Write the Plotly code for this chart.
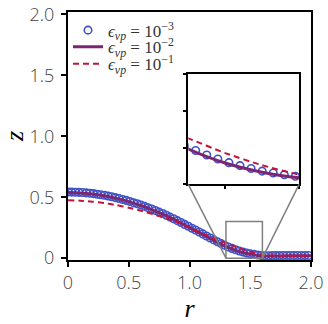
import plotly.graph_objects as go

# ---------------- data ----------------
r_markers = [0.00, 0.03, 0.06, 0.09, 0.12, 0.15, 0.18, 0.21, 0.24, 0.27,
             0.30, 0.33, 0.36, 0.39, 0.42, 0.45, 0.48, 0.51, 0.54, 0.57,
             0.60, 0.63, 0.66, 0.69, 0.72, 0.75, 0.78, 0.81, 0.84, 0.87,
             0.90, 0.93, 0.96, 0.99, 1.02, 1.05, 1.08, 1.11, 1.14, 1.17,
             1.20, 1.23, 1.26, 1.29, 1.32, 1.35, 1.38, 1.41, 1.44, 1.47,
             1.50, 1.53, 1.56, 1.59, 1.62, 1.65, 1.68, 1.71, 1.74, 1.77,
             1.80, 1.83, 1.86, 1.89, 1.92, 1.95, 1.98]
z_eps3 = [0.543, 0.542, 0.541, 0.540, 0.539, 0.536, 0.533, 0.530, 0.525, 0.521,
          0.516, 0.510, 0.504, 0.497, 0.490, 0.482, 0.474, 0.465, 0.455, 0.446,
          0.436, 0.425, 0.414, 0.403, 0.391, 0.378, 0.366, 0.352, 0.337, 0.323,
          0.308, 0.293, 0.277, 0.262, 0.246, 0.231, 0.215, 0.199, 0.182, 0.166,
          0.150, 0.135, 0.120, 0.105, 0.092, 0.080, 0.069, 0.059, 0.051, 0.043,
          0.036, 0.031, 0.026, 0.022, 0.020, 0.020, 0.021, 0.021, 0.021, 0.022,
          0.022, 0.022, 0.022, 0.022, 0.022, 0.022, 0.022]

r_lines = [0.0, 0.1, 0.2, 0.3, 0.4, 0.5, 0.6, 0.7, 0.8, 0.9, 1.0,
           1.1, 1.2, 1.3, 1.4, 1.5, 1.6, 1.7, 1.8, 1.9, 2.0]
z_eps2 = [0.538, 0.535, 0.527, 0.512, 0.491, 0.464, 0.432, 0.395, 0.353, 0.304, 0.253,
          0.200, 0.146, 0.096, 0.058, 0.033, 0.018, 0.018, 0.019, 0.019, 0.019]
z_eps1 = [0.475, 0.472, 0.464, 0.452, 0.435, 0.414, 0.389, 0.361, 0.330, 0.295, 0.250,
          0.206, 0.163, 0.125, 0.085, 0.052, 0.027, 0.021, 0.020, 0.020, 0.020]

legend_labels = ["<i>ϵ<sub>vp</sub></i> = 10<sup>−3</sup>",
                 "<i>ϵ<sub>vp</sub></i> = 10<sup>−2</sup>",
                 "<i>ϵ<sub>vp</sub></i> = 10<sup>−1</sup>"]

x_ticks = [0, 0.5, 1.0, 1.5, 2.0]
x_ticktext = ["0", "0.5", "1.0", "1.5", "2.0"]
y_ticks = [0, 0.5, 1.0, 1.5, 2.0]
y_ticktext = ["0", "0.5", "1.0", "1.5", "2.0"]

x_range = [0, 2.0]
y_range = [-0.015, 2.02]
inset_x_range = [1.3, 1.6]
inset_y_range = [0.0, 0.3]
inset_x_ticks = [1.4, 1.6]
inset_y_ticks = [0.0, 0.1, 0.2, 0.3]

# ---------------- styles ----------------
BLUE = "rgb(62,82,200)"
PURPLE = "rgb(122,38,112)"
RED = "rgb(196,18,58)"
GRAY = "rgb(128,128,128)"
inset_dom_x = [0.495, 0.951]
inset_dom_y = [0.305, 0.75]

fig = go.Figure()

def add_series(xa, ya, show):
    fig.add_trace(go.Scatter(
        x=r_markers, y=z_eps3, mode="markers", name=legend_labels[0],
        marker=dict(symbol="circle-open", size=7.5, color=BLUE, line=dict(width=1.6, color=BLUE)),
        xaxis=xa, yaxis=ya, showlegend=show, legend="legend"))
    fig.add_trace(go.Scatter(
        x=r_lines, y=z_eps2, mode="lines", name=legend_labels[1],
        line=dict(color=PURPLE, width=3, shape="spline", smoothing=0.6),
        xaxis=xa, yaxis=ya, showlegend=show, legend="legend2"))
    fig.add_trace(go.Scatter(
        x=r_lines, y=z_eps1, mode="lines", name=legend_labels[2],
        line=dict(color=RED, width=2, dash="6px,4px", shape="spline", smoothing=0.6),
        xaxis=xa, yaxis=ya, showlegend=show, legend="legend3"))

add_series("x", "y", True)
add_series("x2", "y2", False)

tickfont = dict(family="Open Sans", size=18, color="#444444", weight=300)
titlefont = dict(family="Liberation Serif", size=26, color="black")

fig.update_layout(
    width=328, height=324,
    margin=dict(l=68, r=17, t=12, b=64),
    paper_bgcolor="white", plot_bgcolor="white",
    xaxis=dict(range=x_range, tickvals=x_ticks, ticktext=x_ticktext, automargin=False,
               showline=True, linecolor="black", linewidth=2, mirror=True,
               ticks="outside", ticklen=5, tickwidth=2, tickcolor="black",
               showgrid=False, zeroline=False, tickfont=tickfont,
               ticklabeloverflow="allow",
               title=dict(text="<i>r</i>", font=titlefont, standoff=0)),
    yaxis=dict(range=y_range, tickvals=y_ticks, ticktext=y_ticktext, automargin=False,
               showline=True, linecolor="black", linewidth=2, mirror=True,
               ticks="outside", ticklen=5, tickwidth=2, tickcolor="black",
               showgrid=False, zeroline=False, tickfont=tickfont, ticklabelstandoff=3,
               ticklabeloverflow="allow",
               title=dict(text="<i>z</i>", font=titlefont, standoff=12)),
    xaxis2=dict(domain=inset_dom_x, anchor="y2", range=inset_x_range, automargin=False,
                tickvals=inset_x_ticks, showticklabels=False,
                showline=True, linecolor="black", linewidth=2, mirror=True,
                ticks="outside", ticklen=3, tickwidth=2, tickcolor="black",
                showgrid=False, zeroline=False),
    yaxis2=dict(domain=inset_dom_y, anchor="x2", range=inset_y_range, automargin=False,
                tickvals=inset_y_ticks, showticklabels=False,
                showline=True, linecolor="black", linewidth=2, mirror=True,
                ticks="outside", ticklen=3, tickwidth=2, tickcolor="black",
                showgrid=False, zeroline=False),
)

legend_font = dict(family="Liberation Serif", size=17, color="#333333")
for key, yy in (("legend", 0.925), ("legend2", 0.858), ("legend3", 0.79)):
    fig.update_layout(**{key: dict(x=0.0, xanchor="left", y=yy, yanchor="middle",
                                   bgcolor="rgba(0,0,0,0)", borderwidth=0,
                                   font=legend_font, itemwidth=30)})

# zoom rectangle and connector lines (computed from the inset ranges/domains)
fig.add_shape(type="rect", xref="x", yref="y",
              x0=inset_x_range[0], x1=inset_x_range[1],
              y0=inset_y_range[0], y1=inset_y_range[1],
              line=dict(color=GRAY, width=1.5), layer="above")
ix0 = x_range[0] + inset_dom_x[0] * (x_range[1] - x_range[0])
ix1 = x_range[0] + inset_dom_x[1] * (x_range[1] - x_range[0])
iy0 = y_range[0] + inset_dom_y[0] * (y_range[1] - y_range[0])
for xa, xb in ((ix0, inset_x_range[0]), (ix1, inset_x_range[1])):
    fig.add_shape(type="line", xref="x", yref="y",
                  x0=xa, y0=iy0, x1=xb, y1=inset_y_range[0],
                  line=dict(color=GRAY, width=1.5), layer="above")

# remove the default 8px page margin so the 328x324 figure fills the window
fig.write_html("out.html",
               config={"displayModeBar": False},
               post_script="document.body.style.margin='0px';document.body.style.overflow='hidden';")
